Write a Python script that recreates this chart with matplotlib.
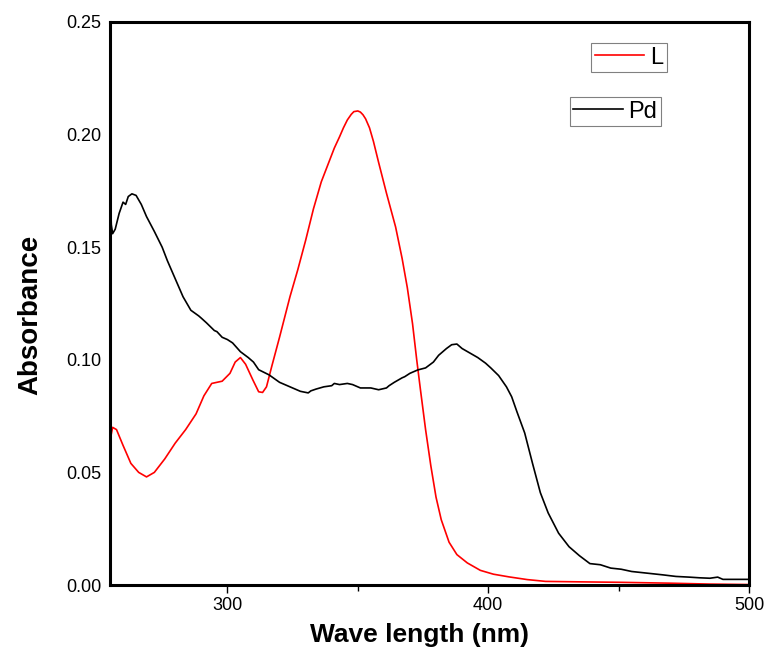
import matplotlib
matplotlib.use("Agg")
import matplotlib.pyplot as plt

plt.rcParams['font.family'] = ['Liberation Sans', 'DejaVu Sans']

# ligand L spectrum
wl_L = [255, 256, 257.5, 260, 263, 266, 269, 272, 276, 280, 284, 288, 291, 294, 298,
        301, 303, 305, 307, 309.8, 312, 313.5, 315, 317, 320, 324, 327, 330, 333, 336,
        339, 341, 343, 344.5, 346, 347.5, 348.5, 350, 351, 352, 353, 354.5, 356, 358,
        361, 364.5, 367, 369, 371, 372.6, 374, 376, 378, 380, 382, 385, 388, 392, 397,
        402, 408, 415, 422, 435, 450, 470, 485, 500]
abs_L = [0.064, 0.070, 0.069, 0.062, 0.054, 0.050, 0.048, 0.050, 0.056, 0.063, 0.069, 0.076,
         0.084, 0.0895, 0.0905, 0.094, 0.099, 0.101, 0.098, 0.091, 0.0858, 0.0855, 0.088,
         0.097, 0.110, 0.128, 0.140, 0.153, 0.167, 0.179, 0.188, 0.194, 0.199, 0.203,
         0.2065, 0.209, 0.2102, 0.2105, 0.210, 0.2088, 0.207, 0.203, 0.197, 0.1876,
         0.174, 0.159, 0.145, 0.132, 0.116, 0.100, 0.087, 0.0690, 0.053, 0.039, 0.029,
         0.0190, 0.0135, 0.0098, 0.0065, 0.0048, 0.0036, 0.0024, 0.0016, 0.0014, 0.0012,
         0.0008, 0.0004, 0.0002]

# Pd complex spectrum
wl_Pd = [255, 255.5, 256, 257, 258.5, 260, 261, 262, 263.4, 265, 267, 269, 272, 275, 277,
         280, 283, 285, 286, 289, 290, 292, 295, 296, 298, 300, 302, 305, 308, 310, 312,
         316, 320, 324, 328, 331, 332, 334, 337, 340, 341, 343, 346, 348, 351, 355, 358,
         361, 362, 364, 367, 368, 370, 373, 376, 379, 381, 384, 386, 388, 390, 393, 396,
         399, 401, 404, 407, 409, 411, 414, 417, 420, 423, 427, 431, 435, 439, 443, 447,
         451, 455, 459, 463, 467, 472, 477, 481, 485, 488, 490, 495, 500]
abs_Pd = [0.177, 0.160, 0.156, 0.158, 0.165, 0.170, 0.169, 0.1725, 0.1737, 0.173, 0.169,
          0.1636, 0.157, 0.150, 0.144, 0.136, 0.128, 0.124, 0.122, 0.1195, 0.1185, 0.1164,
          0.113, 0.1125, 0.110, 0.109, 0.1075, 0.1036, 0.101, 0.099, 0.0956, 0.0933,
          0.090, 0.088, 0.086, 0.0853, 0.0862, 0.087, 0.088, 0.0885, 0.0895, 0.089,
          0.0895, 0.089, 0.0875, 0.0875, 0.0867, 0.0875, 0.0885, 0.090, 0.092, 0.0925,
          0.094, 0.0955, 0.0964, 0.099, 0.102, 0.105, 0.1067, 0.107, 0.105, 0.103, 0.101,
          0.0985, 0.0964, 0.093, 0.088, 0.0836, 0.077, 0.0675, 0.054, 0.041, 0.032, 0.023,
          0.017, 0.013, 0.0095, 0.0090, 0.0075, 0.0070, 0.0060, 0.0055, 0.0050, 0.0045,
          0.0038, 0.0035, 0.0032, 0.0030, 0.0035, 0.0025, 0.0025, 0.0025]

x_ticks = [300, 400, 500]
x_minor = [350, 450]
y_ticks = [0.00, 0.05, 0.10, 0.15, 0.20, 0.25]

fig = plt.figure(figsize=(7.66, 6.62), dpi=100)
ax = fig.add_axes([110/766, 1 - 585/662, 639/766, 563/662])

lL, = ax.plot(wl_L, abs_L, color='#ff0000', lw=1.2)
lP, = ax.plot(wl_Pd, abs_Pd, color='black', lw=1.2)

ax.set_xlim(255, 500)
ax.set_ylim(0, 0.25)
ax.set_xticks(x_ticks)
ax.set_xticks(x_minor, minor=True)
ax.set_yticks(y_ticks)
ax.set_yticklabels(['%.2f' % v for v in y_ticks])
ax.tick_params(axis='x', which='major', direction='out', length=6, width=1, labelsize=13, pad=3)
ax.tick_params(axis='x', which='minor', direction='out', length=4, width=1)
ax.tick_params(axis='y', length=0, labelsize=13, pad=6)
for s in ax.spines.values():
    s.set_linewidth(2.2)

ax.set_xlabel('Wave length (nm)', fontsize=19, fontweight='bold')
ax.set_ylabel('Absorbance', fontsize=20, fontweight='bold')
ax.xaxis.set_label_coords(0.485, -0.068)
ax.yaxis.set_label_coords(-0.105, 0.48)

common = dict(fontsize=17, frameon=True, fancybox=False, handlelength=2.1,
              handletextpad=0.25, borderpad=0.15, borderaxespad=0, framealpha=1)
leg1 = ax.legend([lL], ['L'], loc='upper right',
                 bbox_to_anchor=(667/766, 1 - 43/662), bbox_transform=fig.transFigure, **common)
leg1.get_frame().set_edgecolor('#808080')
leg1.get_frame().set_linewidth(0.8)
ax.add_artist(leg1)
leg2 = ax.legend([lP], ['Pd'], loc='upper right',
                 bbox_to_anchor=(661/766, 1 - 97/662), bbox_transform=fig.transFigure, **common)
leg2.get_frame().set_edgecolor('#808080')
leg2.get_frame().set_linewidth(0.8)

fig.savefig('out.png', dpi=100)
